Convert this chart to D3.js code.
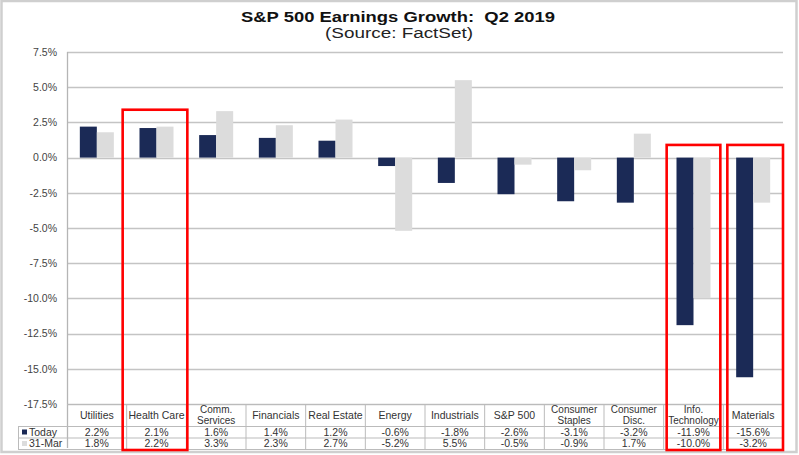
<!DOCTYPE html>
<html><head><meta charset="utf-8">
<script src="https://cdn.jsdelivr.net/npm/d3@7"></script>
<style>body{margin:0;background:#fff}svg{display:block}text{font-family:"Liberation Sans",Arial,sans-serif}</style>
</head><body>
<script>
const categories = ["Utilities","Health Care","Comm.\nServices","Financials","Real Estate","Energy","Industrials","S&P 500","Consumer\nStaples","Consumer\nDisc.","Info.\nTechnology","Materials"];
const seriesNames = ["Today","31-Mar"];
const today = [2.2,2.1,1.6,1.4,1.2,-0.6,-1.8,-2.6,-3.1,-3.2,-11.9,-15.6];
const march31 = [1.8,2.2,3.3,2.3,2.7,-5.2,5.5,-0.5,-0.9,1.7,-10.0,-3.2];
const tickValues = [7.5,5.0,2.5,0.0,-2.5,-5.0,-7.5,-10.0,-12.5,-15.0,-17.5];
const tickLabels = ["7.5%","5.0%","2.5%","0.0%","-2.5%","-5.0%","-7.5%","-10.0%","-12.5%","-15.0%","-17.5%"];
const highlights = ["Health Care","Info.\nTechnology","Materials"];
const highlightTop = [3.4, 0.9, 0.9];

const colors = ["#1b2a56","#dcdcdc"];
const W=799,H=455;
const svg=d3.select("body").append("svg").attr("width",W).attr("height",H);
const fmt=v=>v.toFixed(1)+"%";

// frame
svg.append("rect").attr("x",1.5).attr("y",1).attr("width",795).attr("height",451)
  .attr("fill","none").attr("stroke","#cfcfcf").attr("stroke-width",2.5);

svg.append("text").attr("x",241).attr("y",22)
  .attr("font-size",15.5).attr("font-weight","bold").attr("fill","#111")
  .attr("textLength",314).attr("lengthAdjust","spacingAndGlyphs")
  .attr("xml:space","preserve").text("S&P 500 Earnings Growth:  Q2 2019");
svg.append("text").attr("x",325).attr("y",38)
  .attr("font-size",14).attr("fill","#222")
  .attr("textLength",148).attr("lengthAdjust","spacingAndGlyphs").text("(Source: FactSet)");

const x0=d3.scaleBand().domain(categories).range([67,783]);
const bw=x0.bandwidth();
const x1=d3.scaleBand().domain(seriesNames).range([bw/2-17,bw/2+17]);
const y=d3.scaleLinear().domain([-17.5,7.5]).range([404,52]);

// gridlines
svg.append("g").selectAll("line").data(tickValues).join("line")
  .attr("x1",67).attr("x2",783).attr("y1",d=>Math.round(y(d))+0.5).attr("y2",d=>Math.round(y(d))+0.5)
  .attr("stroke","#c4c4c4").attr("stroke-width",1.3);

// y axis
const yAxis=d3.axisLeft(y).tickValues(tickValues).tickFormat((d,i)=>tickLabels[i]).tickSize(0).tickPadding(10);
const ga=svg.append("g").attr("transform","translate(67,0)").call(yAxis);
ga.select(".domain").remove();
ga.selectAll("text").attr("font-size",10.5).attr("fill","#444").attr("font-family","Liberation Sans,Arial,sans-serif");
svg.append("line").attr("x1",67.5).attr("x2",67.5).attr("y1",52).attr("y2",448).attr("stroke","#b5b5b5").attr("stroke-width",1.3);

// bars
const data=categories.map((c,i)=>({cat:c,vals:[today[i],march31[i]]}));
const g=svg.append("g").selectAll("g").data(data).join("g").attr("transform",d=>`translate(${x0(d.cat)},0)`);
g.selectAll("rect").data(d=>d.vals.map((v,j)=>({s:seriesNames[j],v,j}))).join("rect")
  .attr("x",d=>x1(d.s)).attr("width",x1.bandwidth())
  .attr("y",d=>y(Math.max(0,d.v))).attr("height",d=>Math.abs(y(d.v)-y(0)))
  .attr("fill",d=>colors[d.j]);

// table
const rowTop=404, rowH=[22,11.5,11.5];
const r1=rowTop+rowH[0], r2=r1+rowH[1], r3=r2+rowH[2];
const tg=svg.append("g");
const lc="#bbbbbb";
[[67,783,rowTop],[18,783,r1],[18,783,r2],[18,783,r3]].forEach(([a,b,yy])=>
  tg.append("line").attr("x1",a).attr("x2",b).attr("y1",yy+0.5).attr("y2",yy+0.5).attr("stroke",lc));
tg.append("line").attr("x1",18.5).attr("x2",18.5).attr("y1",r1).attr("y2",r3).attr("stroke",lc);
categories.forEach(c=>{
  const xx=x0(c)+bw;
  tg.append("line").attr("x1",xx).attr("x2",xx).attr("y1",rowTop).attr("y2",r3).attr("stroke",lc);
});
categories.forEach((c,i)=>{
  const lines=c.split("\n");
  const cx=x0(c)+bw/2;
  if(lines.length===1){
    tg.append("text").attr("x",cx).attr("y",rowTop+15).attr("text-anchor","middle").attr("font-size",10.5).attr("fill","#333").text(lines[0]);
  } else {
    lines.forEach((l,k)=>tg.append("text").attr("x",cx).attr("y",rowTop+9+k*11).attr("text-anchor","middle").attr("font-size",10).attr("fill","#333").text(l));
  }
  tg.append("text").attr("x",cx).attr("y",r1+9.5).attr("text-anchor","middle").attr("font-size",10.5).attr("fill","#333").text(fmt(today[i]));
  tg.append("text").attr("x",cx).attr("y",r2+9.5).attr("text-anchor","middle").attr("font-size",10.5).attr("fill","#333").text(fmt(march31[i]));
});
seriesNames.forEach((s,j)=>{
  const yy=[r1,r2][j];
  tg.append("rect").attr("x",22).attr("y",yy+3.5).attr("width",5).attr("height",5).attr("fill",colors[j]);
  tg.append("text").attr("x",29).attr("y",yy+9.5).attr("font-size",10.5).attr("fill","#333").text(s);
});

// highlight boxes
const padL=[4,-3,-4], padR=[1,-3,0];
highlights.forEach((c,i)=>{
  const xa=x0(c)-padL[i], xb=x0(c)+bw+padR[i];
  svg.append("rect").attr("x",xa).attr("y",y(highlightTop[i])).attr("width",xb-xa).attr("height",450-y(highlightTop[i]))
    .attr("fill","none").attr("stroke","#ff0000").attr("stroke-width",2.6);
});
</script>
</body></html>
